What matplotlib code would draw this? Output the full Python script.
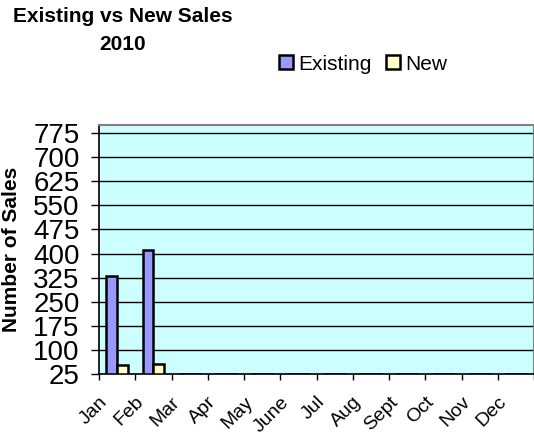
import numpy as np
import matplotlib
matplotlib.use("Agg")
import matplotlib.pyplot as plt
from matplotlib.transforms import ScaledTranslation

plt.rcParams["font.family"] = ["Liberation Sans", "DejaVu Sans"]

months = ["Jan", "Feb", "Mar", "Apr", "May", "June", "Jul", "Aug", "Sept", "Oct", "Nov", "Dec"]
existing = [330, 411, 0, 0, 0, 0, 0, 0, 0, 0, 0, 0]
new = [53, 56, 0, 0, 0, 0, 0, 0, 0, 0, 0, 0]
yticks = [25, 100, 175, 250, 325, 400, 475, 550, 625, 700, 775]

ymin, ymax = 25, 800

fig = plt.figure(figsize=(5.34, 4.42), dpi=100)
ax = fig.add_axes([99 / 534, 1 - 374 / 442, 435 / 534, 249 / 442])
ax.set_facecolor("#CCFFFF")

x = np.arange(len(months))
w = 0.3
ex_h = [max(v - ymin, 0) for v in existing]
nw_h = [max(v - ymin, 0) for v in new]
ax.bar(x - w / 2, ex_h, w, bottom=ymin, color="#9999FF", edgecolor="black", linewidth=1.8,
       label="Existing", zorder=3)
ax.bar(x + w / 2, nw_h, w, bottom=ymin, color="#FFFFCC", edgecolor="black", linewidth=1.8,
       label="New", zorder=3)

ax.set_xlim(-0.5, len(months) - 0.5)
ax.set_ylim(ymin, ymax)
ax.set_yticks(yticks)
ax.set_yticklabels([str(t) for t in yticks], fontsize=20)
ax.yaxis.grid(True, color="black", linewidth=1, zorder=1)
ax.set_axisbelow(True)

# category boundaries get the tick marks, labels sit under the centres
ax.set_xticks(np.arange(len(months) + 1) - 0.5)
ax.set_xticklabels([])
ax.set_xticks(x, minor=True)
ax.set_xticklabels(months, minor=True, rotation=45, ha="right", va="top", fontsize=14)
ax.tick_params(axis="x", which="minor", length=0, pad=14)
ax.tick_params(axis="x", which="major", length=4.5, width=1)
ax.tick_params(axis="y", length=6, width=1, pad=8)
shift = ScaledTranslation(-6 / 100, 0, fig.dpi_scale_trans)
for lab in ax.get_xticklabels(minor=True):
    lab.set_transform(lab.get_transform() + shift)

for s in ["top", "right"]:
    ax.spines[s].set_color("#808080")
    ax.spines[s].set_linewidth(1.5)
ax.spines["left"].set_linewidth(1.2)
ax.spines["bottom"].set_linewidth(1.2)

fig.text(12 / 534, 1 - 249 / 442, "Number of Sales", rotation=90, ha="center", va="center",
         fontsize=15, fontweight="bold")

fig.text(123 / 534, 1 - 17 / 442, "Existing vs New Sales", ha="center", va="center",
         fontsize=15, fontweight="bold")
fig.text(123 / 534, 1 - 45 / 442, "2010", ha="center", va="center",
         fontsize=15, fontweight="bold")

fig.legend(loc="center", bbox_to_anchor=(363 / 534, 1 - 64 / 442), ncol=2, frameon=False,
           fontsize=15, handlelength=0.67, handleheight=0.67, handletextpad=0.25,
           columnspacing=0.67, borderpad=0, borderaxespad=0)

fig.savefig("out.png", dpi=100)
